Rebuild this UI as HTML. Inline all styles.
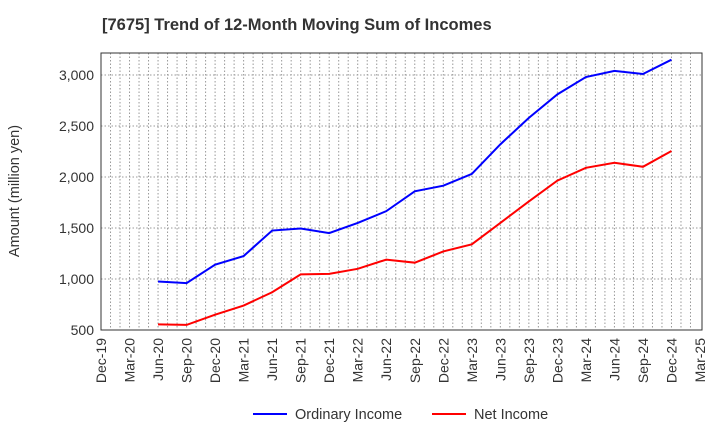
<!DOCTYPE html>
<html><head><meta charset="utf-8"><style>
body{margin:0;background:#fff;font-family:"Liberation Sans",sans-serif}
</style></head><body>
<svg id="chart" width="720" height="440" xmlns="http://www.w3.org/2000/svg" font-family="Liberation Sans, sans-serif">
<text x="102" y="30" font-size="16.5" font-weight="bold" fill="#333">[7675]  Trend of 12-Month Moving Sum of Incomes</text>
<text transform="translate(19,191) rotate(-90)" text-anchor="middle" font-size="14.5" fill="#333">Amount (million yen)</text>
<g id="grid"></g><g id="axes"></g><g id="series"></g>
<g>
<line x1="253" y1="414" x2="287" y2="414" stroke="#0000ff" stroke-width="2"/>
<text x="295" y="419" font-size="14.5" fill="#333">Ordinary Income</text>
<line x1="432" y1="414" x2="466" y2="414" stroke="#ff0000" stroke-width="2"/>
<text x="474" y="419" font-size="14.5" fill="#333">Net Income</text>
</g>
</svg>
<script>
const quarters=["Dec-19","Mar-20","Jun-20","Sep-20","Dec-20","Mar-21","Jun-21","Sep-21","Dec-21","Mar-22","Jun-22","Sep-22","Dec-22","Mar-23","Jun-23","Sep-23","Dec-23","Mar-24","Jun-24","Sep-24","Dec-24","Mar-25"];
const yTicks=[500,1000,1500,2000,2500,3000];
const yTickLabels=["500","1,000","1,500","2,000","2,500","3,000"];
const ordinaryIncome=[null,null,975,960,1140,1225,1475,1495,1450,1550,1665,1860,1915,2030,2320,2580,2810,2980,3040,3010,3150];
const netIncome=[null,null,555,550,650,740,870,1045,1050,1100,1190,1160,1270,1340,1550,1760,1965,2090,2140,2100,2255];
const L=101,R=702,T=53,B=330,ns="http://www.w3.org/2000/svg";
const x=i=>L+i*(700-L)/21;
const y=v=>B-(v-500)*(B-75)/2500;
function mk(tag,at,parent){const e=document.createElementNS(ns,tag);for(const k in at)e.setAttribute(k,at[k]);document.getElementById(parent).appendChild(e);return e;}
for(let m=1;m<63;m++){const xx=L+m*(700-L)/63;const g=mk('line',{x1:xx,x2:xx,y1:T,y2:B,stroke:'#999','stroke-dasharray':'1.5,2','stroke-width':1},'grid');

}
yTicks.forEach((v,i)=>{const g=mk('line',{x1:L,x2:R,y1:y(v),y2:y(v),stroke:'#999','stroke-dasharray':'1.5,2'},'grid');


const t=mk('text',{x:L-7,y:y(v)+5,'text-anchor':'end','font-size':14,fill:'#333'},'axes');t.textContent=yTickLabels[i];

});
const fr=mk('rect',{x:L,y:T,width:R-L,height:B-T,fill:'none',stroke:'#333','stroke-width':1},'axes');


quarters.forEach((q,i)=>{const t=mk('text',{transform:`translate(${x(i)+5},${B+8}) rotate(-90)`,'text-anchor':'end','font-size':14,fill:'#333'},'axes');t.textContent=q;

});
function line(data,color,name){const pts=data.map((v,i)=>v==null?null:x(i)+','+y(v)).filter(p=>p);const p=mk('polyline',{points:pts.join(' '),fill:'none',stroke:color,'stroke-width':2},'series');

}
line(ordinaryIncome,'#0000ff','ordinary-income-line');
line(netIncome,'#ff0000','net-income-line');
</script>
</body></html>
